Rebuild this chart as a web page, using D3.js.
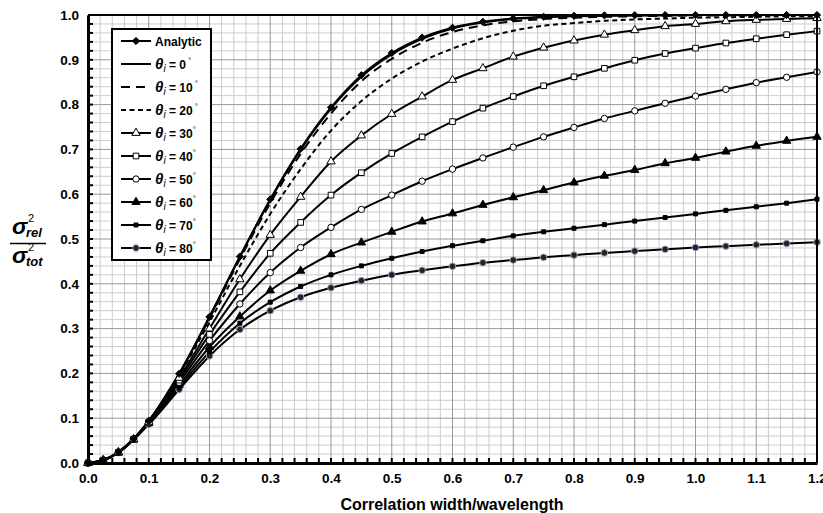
<!DOCTYPE html>
<html><head><meta charset="utf-8">
<script src="https://cdn.jsdelivr.net/npm/d3@7/dist/d3.min.js"></script>
<style>body{margin:0;background:#fff}svg{display:block;font-family:"Liberation Sans",Arial,sans-serif}</style>
</head><body><svg id="c" width="823" height="513"></svg>
<script>
const xVals = [0,0.025,0.05,0.075,0.1,0.15,0.2,0.25,0.3,0.35,0.4,0.45,0.5,0.55,0.6,0.65,0.7,0.75,0.8,0.85,0.9,0.95,1.0,1.05,1.1,1.15,1.2];
const analytic = [0,0.0061,0.0244,0.054,0.094,0.1992,0.3263,0.4609,0.5886,0.7012,0.7937,0.8657,0.9152,0.9495,0.9716,0.9847,0.9921,0.9961,0.9982,0.9992,0.9997,0.9999,1,1,1,1,1];
const theta0  = [0,0.0061,0.0244,0.054,0.094,0.199,0.326,0.46,0.587,0.699,0.791,0.862,0.912,0.947,0.970,0.983,0.991,0.995,0.997,0.998,0.999,0.999,1,1,1,1,1];
const theta10 = [0,0.006,0.0243,0.0538,0.0935,0.198,0.323,0.455,0.58,0.69,0.78,0.852,0.902,0.938,0.962,0.977,0.986,0.991,0.994,0.996,0.997,0.998,0.999,0.999,0.999,1,1];
const theta20 = [0,0.006,0.024,0.053,0.093,0.196,0.315,0.44,0.556,0.656,0.742,0.808,0.858,0.896,0.925,0.948,0.965,0.976,0.982,0.987,0.99,0.992,0.994,0.995,0.996,0.997,0.997];
const theta30 = [0,0.006,0.024,0.053,0.092,0.19,0.30,0.41,0.509,0.594,0.673,0.731,0.779,0.818,0.855,0.881,0.907,0.927,0.943,0.956,0.966,0.975,0.98,0.986,0.989,0.991,0.993];
const theta40 = [0,0.006,0.024,0.053,0.091,0.185,0.287,0.382,0.468,0.537,0.598,0.648,0.691,0.728,0.762,0.792,0.818,0.842,0.862,0.881,0.899,0.914,0.926,0.9375,0.947,0.956,0.964];
const theta50 = [0,0.006,0.024,0.053,0.09,0.18,0.273,0.355,0.425,0.481,0.526,0.566,0.598,0.629,0.656,0.681,0.705,0.728,0.749,0.769,0.786,0.803,0.819,0.834,0.849,0.861,0.873];
const theta60 = [0,0.006,0.023,0.052,0.089,0.174,0.259,0.327,0.385,0.429,0.466,0.492,0.516,0.539,0.557,0.576,0.593,0.609,0.626,0.641,0.654,0.669,0.681,0.695,0.708,0.719,0.728];
const theta70 = [0,0.006,0.023,0.052,0.088,0.169,0.248,0.312,0.359,0.394,0.42,0.44,0.457,0.472,0.485,0.496,0.507,0.516,0.524,0.532,0.540,0.548,0.556,0.564,0.572,0.580,0.589];
const theta80 = [0,0.007,0.023,0.053,0.086,0.164,0.239,0.298,0.34,0.37,0.391,0.407,0.42,0.43,0.439,0.447,0.453,0.459,0.464,0.469,0.473,0.477,0.481,0.484,0.487,0.490,0.493];
const xTicks = [0,0.1,0.2,0.3,0.4,0.5,0.6,0.7,0.8,0.9,1.0,1.1,1.2];
const yTicks = [0,0.1,0.2,0.3,0.4,0.5,0.6,0.7,0.8,0.9,1.0];
const legendLabels = ["Analytic","0","10","20","30","40","50","60","70","80"];

const svg = d3.select("#c");
const x = d3.scaleLinear().domain([0,1.2]).range([88,817]);
const y = d3.scaleLinear().domain([0,1]).range([463,15]);

// grid
const g = svg.append("g");
const minorX = d3.range(0,61).map(i=>i*0.02).filter(v=>Math.round(v*50)%5!==0);
const minorY = d3.range(0,51).map(i=>i*0.02).filter(v=>Math.round(v*50)%5!==0);
g.selectAll(".mx").data(minorX).join("line").attr("x1",d=>x(d)).attr("x2",d=>x(d)).attr("y1",y(0)).attr("y2",y(1)).attr("stroke","#cccccc").attr("stroke-width",1);
g.selectAll(".my").data(minorY).join("line").attr("y1",d=>y(d)).attr("y2",d=>y(d)).attr("x1",x(0)).attr("x2",x(1.2)).attr("stroke","#cccccc").attr("stroke-width",1);
g.selectAll(".Mx").data(xTicks).join("line").attr("x1",d=>x(d)).attr("x2",d=>x(d)).attr("y1",y(0)).attr("y2",y(1)).attr("stroke","#999999").attr("stroke-width",1);
g.selectAll(".My").data(yTicks).join("line").attr("y1",d=>y(d)).attr("y2",d=>y(d)).attr("x1",x(0)).attr("x2",x(1.2)).attr("stroke","#999999").attr("stroke-width",1);

const diamond = {draw(ctx,size){const r=Math.sqrt(size/2);ctx.moveTo(0,-r);ctx.lineTo(r,0);ctx.lineTo(0,r);ctx.lineTo(-r,0);ctx.closePath();}};
const series = [
  {v:analytic, dash:null, sym:diamond, size:26, fill:"#000", stroke:"#000"},
  {v:theta0, dash:null, sym:null},
  {v:theta10, dash:"9,6", sym:null},
  {v:theta20, dash:"5,3.5", sym:null},
  {v:theta30, dash:null, sym:d3.symbolTriangle, size:30, fill:"#fff", stroke:"#000"},
  {v:theta40, dash:null, sym:d3.symbolSquare, size:32, fill:"#fff", stroke:"#000"},
  {v:theta50, dash:null, sym:d3.symbolCircle, size:32, fill:"#fff", stroke:"#000"},
  {v:theta60, dash:null, sym:d3.symbolTriangle, size:30, fill:"#000", stroke:"#000"},
  {v:theta70, dash:null, sym:d3.symbolSquare, size:16, fill:"#000", stroke:"#000"},
  {v:theta80, dash:null, sym:d3.symbolCircle, size:34, fill:"#222", stroke:"#a89cc8"}
];
const line = d3.line().x((d,i)=>x(xVals[i])).y(d=>y(d)).curve(d3.curveMonotoneX);
const cg = svg.append("g");
series.slice().reverse().forEach(s=>{
  cg.append("path").attr("d",line(s.v)).attr("fill","none").attr("stroke","#000").attr("stroke-width",2)
    .attr("stroke-dasharray",s.dash);
});
series.slice().reverse().forEach(s=>{
  if(!s.sym) return;
  cg.selectAll(null).data(s.v).join("path")
    .attr("transform",(d,i)=>`translate(${x(xVals[i])},${y(d)})`)
    .attr("d",d3.symbol(s.sym,s.size)).attr("fill",s.fill).attr("stroke",s.stroke).attr("stroke-width",1);
});

// frame
svg.append("line").attr("x1",x(0)).attr("x2",x(1.2)).attr("y1",y(1)).attr("y2",y(1)).attr("stroke","#000").attr("stroke-width",2);
svg.append("line").attr("x1",x(1.2)).attr("x2",x(1.2)).attr("y1",y(1)).attr("y2",y(0)).attr("stroke","#000").attr("stroke-width",2);
// axes
const xAxis = d3.axisBottom(x).tickValues(xTicks).tickFormat(d3.format(".1f")).tickSize(0).tickPadding(10);
const ax = svg.append("g").attr("transform",`translate(0,${y(0)})`).call(xAxis);
ax.select(".domain").attr("stroke","#000").attr("stroke-width",3);
ax.selectAll("text").attr("font-size",13.5).attr("font-weight","bold").attr("fill","#000").attr("font-family",'"Liberation Sans",Arial,sans-serif');
const yAxis = d3.axisLeft(y).tickValues(yTicks).tickFormat(d3.format(".1f")).tickSize(0).tickPadding(9);
const ay = svg.append("g").attr("transform",`translate(${x(0)},0)`).call(yAxis);
ay.select(".domain").attr("stroke","#000").attr("stroke-width",3);
ay.selectAll("text").attr("font-size",13.5).attr("font-weight","bold").attr("fill","#000").attr("font-family",'"Liberation Sans",Arial,sans-serif');
// inner ticks
const allX = d3.range(0,61).map(i=>i*0.02);
const allY = d3.range(0,51).map(i=>i*0.02);
svg.selectAll(".tx").data(allX).join("line").attr("x1",d=>x(d)).attr("x2",d=>x(d)).attr("y1",y(0)).attr("y2",y(0)-5).attr("stroke","#000").attr("stroke-width",2);
svg.selectAll(".ty").data(allY).join("line").attr("y1",d=>y(d)).attr("y2",d=>y(d)).attr("x1",x(0)).attr("x2",x(0)+5).attr("stroke","#000").attr("stroke-width",2);

// x title
svg.append("text").attr("x",452).attr("y",510).attr("text-anchor","middle").attr("font-size",16).attr("font-weight","bold").text("Correlation width/wavelength");
// y title fraction
const yt = svg.append("g").attr("font-weight","bold");
function sig(yb, sub){
  yt.append("text").attr("x",12).attr("y",yb).attr("font-size",23).attr("font-style","italic").text("σ");
  yt.append("text").attr("x",28).attr("y",yb-12).attr("font-size",11).attr("font-weight","normal").text("2");
  yt.append("text").attr("x",26).attr("y",yb+3).attr("font-size",13).attr("font-style","italic").text(sub);
}
sig(234,"rel");
yt.append("line").attr("x1",10).attr("x2",46).attr("y1",243.5).attr("y2",243.5).attr("stroke","#000").attr("stroke-width",1.6);
sig(263,"tot");

// legend
const lg = svg.append("g");
lg.append("rect").attr("x",112).attr("y",29).attr("width",99).attr("height",231).attr("fill","#fff").attr("stroke","#000").attr("stroke-width",2);
series.forEach((s,i)=>{
  const cy = 41 + i*23;
  lg.append("line").attr("x1",121).attr("x2",151).attr("y1",cy).attr("y2",cy).attr("stroke","#000").attr("stroke-width",2).attr("stroke-dasharray",s.dash);
  if(s.sym) lg.append("path").attr("transform",`translate(136,${cy})`).attr("d",d3.symbol(s.sym,s.size)).attr("fill",s.fill).attr("stroke",s.stroke).attr("stroke-width",1);
  if(i===0){
    lg.append("text").attr("x",155).attr("y",cy+4.5).attr("font-size",12).attr("font-weight","bold").text(legendLabels[i]);
  } else {
    const t = lg.append("text").attr("x",155).attr("y",cy+5).attr("font-weight","bold");
    t.append("tspan").attr("font-size",15).attr("font-style","italic").text("θ");
    t.append("tspan").attr("font-size",10).attr("font-style","italic").attr("font-weight","normal").attr("dy",3).text("i");
    t.append("tspan").attr("font-size",12).attr("dy",-3).text(" = "+legendLabels[i]);
    t.append("tspan").attr("font-size",8).attr("font-weight","normal").attr("dy",-6).attr("dx",i<=3?2:0).text("°");
  }
});
</script></body></html>
